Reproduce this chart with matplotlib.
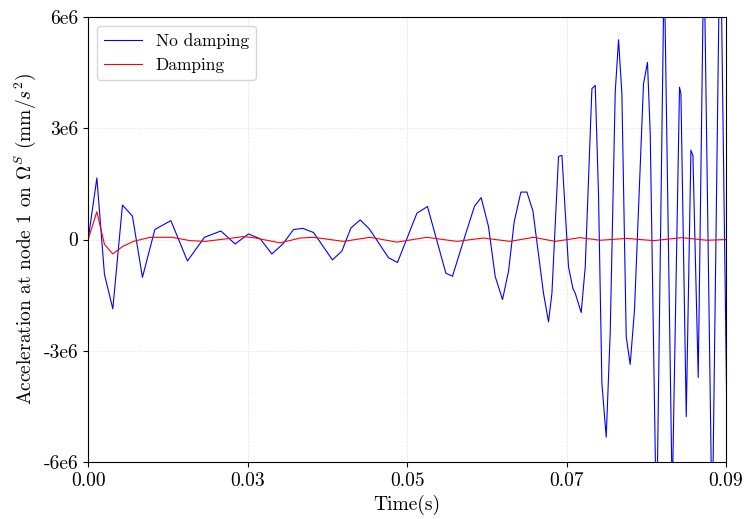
#!/usr/bin/env python3

import numpy as np
import matplotlib
matplotlib.use('Agg')
import matplotlib.pyplot as plt

# time (s) and acceleration (mm/s^2), undamped run
t_nodamp = [0.0, 0.00123, 0.0023, 0.00348, 0.00484, 0.00625, 0.00766, 0.00941,
            0.01167, 0.01401, 0.01641, 0.01872, 0.02074, 0.02262, 0.02427, 0.02592,
            0.02747, 0.02897, 0.03029, 0.03179, 0.03447, 0.0358, 0.03707, 0.03838,
            0.03969, 0.04237, 0.04364, 0.04638, 0.04787, 0.05047, 0.0514, 0.05329,
            0.05451, 0.05545, 0.05648, 0.05743, 0.05846, 0.05931, 0.06011, 0.06105,
            0.0619, 0.06275, 0.06424, 0.06495, 0.06543, 0.06636, 0.06684, 0.06777,
            0.06839, 0.06872, 0.06956, 0.07013, 0.07107, 0.07154, 0.072, 0.07248,
            0.07309, 0.07365, 0.07436, 0.07483, 0.0753, 0.07591, 0.07647, 0.07708,
            0.07835, 0.07891, 0.0793, 0.08019, 0.08127, 0.0824, 0.08343, 0.08363,
            0.08438, 0.08504, 0.08532, 0.08607, 0.08687, 0.08804, 0.08917, 0.0904]
a_nodamp = [0.0, 1.66, -0.94, -1.87, 0.93, 0.63, -1.02, 0.27,
            0.51, -0.58, 0.06, 0.23, -0.12, 0.15, 0.02, -0.39,
            -0.12, 0.27, 0.30, 0.19, -0.55, -0.31, 0.31, 0.53,
            0.28, -0.49, -0.62, 0.71, 0.89, -0.91, -0.99, 0.17,
            0.90, 1.13, 0.35, -1.00, -1.62, -0.85, 0.48, 1.28,
            1.28, 0.77, -1.45, -2.22, -1.45, 2.24, 2.27, -0.74,
            -1.32, -1.45, -1.97, -0.74, 4.07, 4.16, 1.24, -3.88,
            -5.33, -2.53, 3.98, 5.39, 3.93, -2.62, -3.37, -1.90,
            4.20, 4.78, 2.85, -8.0, 7.5, -7.0, 4.11, 3.93,
            -4.78, 2.41, 2.27, -3.72, 8.0, -8.0, 9.0, -9.0]

# damped run
t_damp = [0.0, 0.00123, 0.0023, 0.00348, 0.00484, 0.00639, 0.00875, 0.01181,
          0.01439, 0.01651, 0.01957, 0.02191, 0.02332, 0.02709, 0.02991, 0.03179,
          0.03602, 0.03979, 0.04356, 0.04779, 0.05202, 0.05578, 0.05954, 0.06283,
          0.06589, 0.06942, 0.07224, 0.07601, 0.07977, 0.08377, 0.0873, 0.09]
a_damp = [0.0, 0.75, -0.13, -0.39, -0.19, -0.05, 0.06, 0.06,
          -0.03, -0.05, 0.02, 0.08, 0.05, -0.09, 0.04, 0.06,
          -0.05, 0.06, -0.07, 0.06, -0.05, 0.04, -0.05, 0.06,
          -0.05, 0.05, -0.02, 0.03, -0.03, 0.05, -0.02, 0.0]

x_ticks = [0.0, 0.0225, 0.045, 0.0675, 0.09]
x_ticklabels = ['0.00', '0.03', '0.05', '0.07', '0.09']
y_ticks = [-6e6, -3e6, 0, 3e6, 6e6]
y_ticklabels = ['-6e6', '-3e6', '0', '3e6', '6e6']

plt.rcParams['font.family'] = 'serif'
plt.rcParams['font.serif'] = ['cmr10', 'DejaVu Serif']
plt.rcParams['mathtext.fontset'] = 'cm'
plt.rcParams['axes.formatter.use_mathtext'] = True

fig, ax = plt.subplots(figsize=(7.47, 5.19), dpi=100)
fig.subplots_adjust(left=0.118, right=0.972, top=0.967, bottom=0.11)

ax.plot(t_nodamp, np.array(a_nodamp) * 1e6, color='blue', linewidth=0.8, label='No damping')
ax.plot(t_damp, np.array(a_damp) * 1e6, color='red', linewidth=0.8, label='Damping')

ax.set_xlim(0, 0.09)
ax.set_ylim(-6e6, 6e6)
ax.set_xticks(x_ticks)
ax.set_xticklabels(x_ticklabels)
ax.set_yticks(y_ticks)
ax.set_yticklabels(y_ticklabels)
ax.tick_params(axis='both', which='major', labelsize=14)

ax.grid(color='#dddddd', linestyle=':', linewidth=0.7)
ax.set_xlabel('Time(s)', fontsize=14)
ax.set_ylabel(r'Acceleration at node 1 on $\Omega^S$ (mm/$s^2$)', fontsize=14)
ax.legend(loc='upper left', fontsize=12.5, handlelength=2.2)

fig.savefig('out.png', dpi=100)
